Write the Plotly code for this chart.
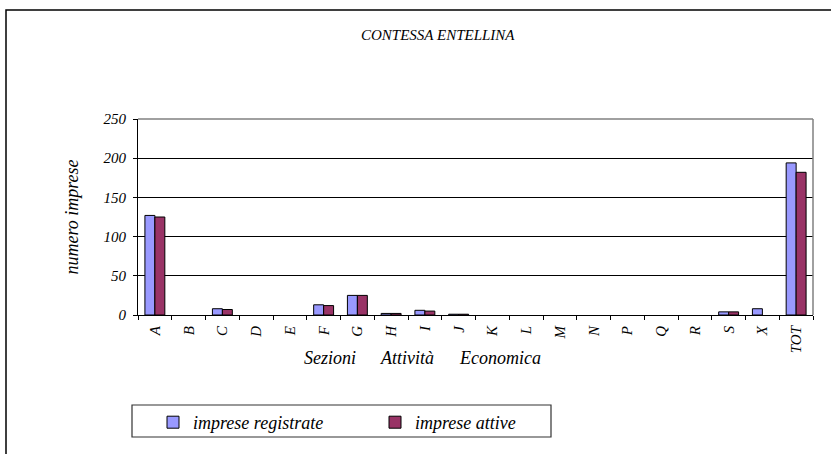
import plotly.graph_objects as go

sezioni = ["A", "B", "C", "D", "E", "F", "G", "H", "I", "J",
           "K", "L", "M", "N", "P", "Q", "R", "S", "X", "TOT"]
registrate = [127, 0, 8, 0, 0, 13, 25, 2, 6, 1, 0, 0, 0, 0, 0, 0, 0, 4, 8, 194]
attive = [125, 0, 7, 0, 0, 12, 25, 2, 5, 1, 0, 0, 0, 0, 0, 0, 0, 4, 0, 182]

serif = "Liberation Serif"

# plot area in pixels: x 138..813, y 119..315
W, H = 675, 196


def px(x):
    return (x - 138) / W


def py(y):
    return (315 - y) / H


def no_zero(vals):
    # zero bars are not drawn at all in the original chart
    return [v if v else None for v in vals]


fig = go.Figure()
fig.add_trace(go.Bar(x=sezioni, y=no_zero(registrate), name="imprese registrate",
                     marker=dict(color="#9999FF", line=dict(color="black", width=1))))
fig.add_trace(go.Bar(x=sezioni, y=no_zero(attive), name="imprese attive",
                     marker=dict(color="#993366", line=dict(color="black", width=1))))

fig.update_layout(
    width=831, height=454,
    margin=dict(l=138, r=18, t=119, b=139),
    paper_bgcolor="white", plot_bgcolor="white",
    barmode="group", bargap=0.41, bargroupgap=0,
    font=dict(family=serif, color="black", size=12, style="italic"),
    showlegend=True,
    legend=dict(orientation="h", x=px(153), y=py(404), xanchor="left", yanchor="top",
                borderwidth=0, bgcolor="rgba(0,0,0,0)",
                font=dict(size=18, family=serif, style="italic"),
                entrywidth=177, entrywidthmode="pixels"),
)

fig.update_xaxes(
    type="category", tickson="boundaries", ticks="outside", ticklen=4,
    tickcolor="black", showline=True, linecolor="black", linewidth=1,
    tickangle=-90, tickfont=dict(size=15, family=serif, style="italic"),
    ticklabelstandoff=4, showgrid=False,
)
fig.update_yaxes(
    range=[0, 250], dtick=50, ticks="outside", ticklen=4, tickcolor="black",
    showline=True, linecolor="black", linewidth=1,
    showgrid=True, gridcolor="black", gridwidth=1,
    ticklabelstandoff=4,
    tickfont=dict(size=15, family=serif, style="italic"),
    title=dict(text="numero imprese", font=dict(size=18, family=serif, style="italic"),
               standoff=20),
)

# plot area border (top and right in gray)
fig.add_shape(type="line", xref="paper", yref="paper", x0=0, x1=1, y0=1, y1=1,
              line=dict(color="#808080", width=1.5))
fig.add_shape(type="line", xref="paper", yref="paper", x0=1, x1=1, y0=0, y1=1,
              line=dict(color="#808080", width=1.5))

# outer chart frame
fig.add_shape(type="rect", xref="paper", yref="paper",
              x0=px(6), x1=px(840), y0=py(10), y1=py(470),
              line=dict(color="black", width=1.5))

# legend frame
fig.add_shape(type="rect", xref="paper", yref="paper",
              x0=px(132), x1=px(551), y0=py(405), y1=py(437),
              line=dict(color="#333333", width=1.2))

fig.add_annotation(text="CONTESSA ENTELLINA", xref="paper", yref="paper",
                   x=px(438), y=py(35), xanchor="center", yanchor="middle",
                   showarrow=False, font=dict(size=15, family=serif, style="italic"))

for word, cx in [("Sezioni", 330), ("Attività", 407), ("Economica", 500)]:
    fig.add_annotation(text=word, xref="paper", yref="paper",
                       x=px(cx), y=py(358), xanchor="center", yanchor="middle",
                       showarrow=False, font=dict(size=18, family=serif, style="italic"))

fig.write_html("out.html", config={"displayModeBar": False},
               post_script="document.body.style.margin='0';")
